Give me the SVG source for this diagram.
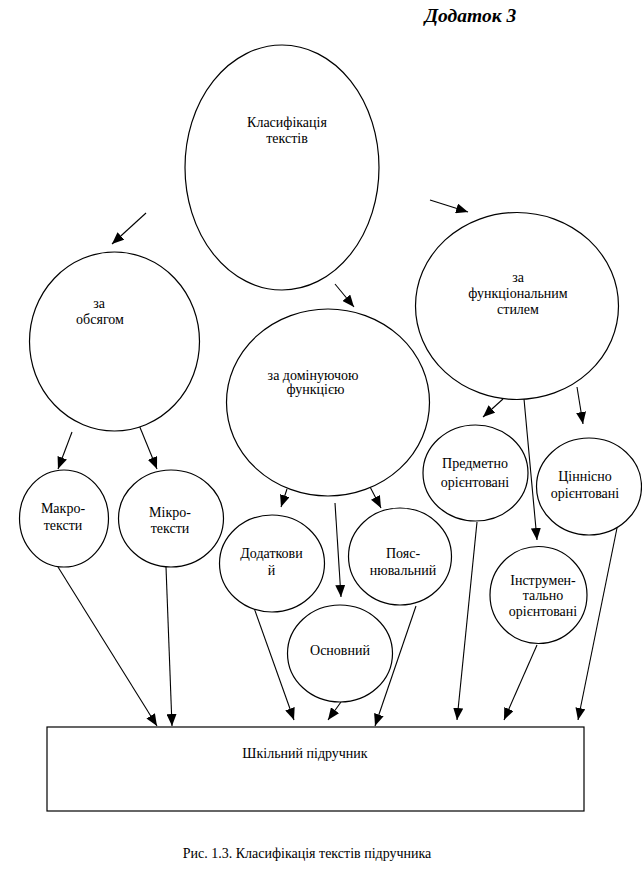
<svg xmlns="http://www.w3.org/2000/svg" width="642" height="869" viewBox="0 0 642 869" style="font-family:'Liberation Serif',serif">
<style>
.n{fill:#fff;stroke:#000;stroke-width:1.2}
.t{font-size:14px;fill:#000;text-anchor:middle}
.c line{stroke:#000;stroke-width:1.1;marker-end:url(#ah)}
</style>
<defs>
<marker id="ah" viewBox="0 0 12 10" refX="12" refY="5" markerWidth="12" markerHeight="10" markerUnits="userSpaceOnUse" orient="auto">
<path d="M0,0 L12,5 L0,10 Z" fill="#000"/>
</marker>
</defs>
<rect width="642" height="869" fill="#fff"/>
<text x="470.5" y="22" style="font-family:'Liberation Serif',serif;font-size:19.5px;font-weight:bold;font-style:italic;text-anchor:middle">Додаток 3</text>
<g class="c">
<line x1="146" y1="213" x2="112" y2="244"/>
<line x1="335" y1="284" x2="354" y2="307"/>
<line x1="430" y1="200" x2="468" y2="212"/>
<line x1="72" y1="432" x2="58" y2="469"/>
<line x1="139" y1="425" x2="157" y2="469"/>
<line x1="287" y1="489" x2="281" y2="507"/>
<line x1="335" y1="503" x2="341" y2="597"/>
<line x1="368" y1="483" x2="381" y2="508"/>
<line x1="503" y1="399" x2="483" y2="417"/>
<line x1="524" y1="399" x2="537" y2="540"/>
<line x1="577" y1="387" x2="583" y2="424"/>
<line x1="58" y1="567" x2="157" y2="726"/>
<line x1="166" y1="567" x2="172" y2="726"/>
<line x1="253" y1="605" x2="294" y2="720"/>
<line x1="341" y1="702" x2="328" y2="720"/>
<line x1="416" y1="606" x2="375" y2="726"/>
<line x1="477" y1="522" x2="457" y2="720"/>
<line x1="537" y1="645" x2="504" y2="720"/>
<line x1="617" y1="528" x2="578" y2="720"/>
</g>
<g id="klasyfikatsiia">
<ellipse class="n" cx="282" cy="167.5" rx="97" ry="122.5"/>
<text class="t" x="287" y="127" style="font-family:'Liberation Serif',serif">Класифікація</text>
<text class="t" x="287" y="143" style="font-family:'Liberation Serif',serif">текстів</text>
</g>
<g id="obsiah">
<ellipse class="n" cx="114.5" cy="341.5" rx="85" ry="89.5"/>
<text class="t" x="99" y="308" style="font-family:'Liberation Serif',serif">за</text>
<text class="t" x="100" y="324" style="font-family:'Liberation Serif',serif">обсягом</text>
</g>
<g id="dominuiucha">
<ellipse class="n" cx="328" cy="402.5" rx="101.5" ry="93.5"/>
<text class="t" x="313" y="379.5" style="font-family:'Liberation Serif',serif">за домінуючою</text>
<text class="t" x="315.5" y="394" style="font-family:'Liberation Serif',serif">функцією</text>
</g>
<g id="funktsionalnyi">
<ellipse class="n" cx="517" cy="306" rx="101.5" ry="93.5"/>
<text class="t" x="518" y="282" style="font-family:'Liberation Serif',serif">за</text>
<text class="t" x="518" y="298" style="font-family:'Liberation Serif',serif">функціональним</text>
<text class="t" x="518" y="313.5" style="font-family:'Liberation Serif',serif">стилем</text>
</g>
<g id="makro">
<ellipse class="n" cx="64" cy="518.5" rx="44.5" ry="48.5"/>
<text class="t" x="63" y="513" style="font-family:'Liberation Serif',serif">Макро-</text>
<text class="t" x="63" y="529.5" style="font-family:'Liberation Serif',serif">тексти</text>
</g>
<g id="mikro">
<ellipse class="n" cx="171" cy="518.5" rx="52.5" ry="48.5"/>
<text class="t" x="170" y="516.5" style="font-family:'Liberation Serif',serif">Мікро-</text>
<text class="t" x="170" y="533" style="font-family:'Liberation Serif',serif">тексти</text>
</g>
<g id="dodatkovyi">
<ellipse class="n" cx="272" cy="563.5" rx="52.5" ry="48.5"/>
<text class="t" x="271.5" y="558" style="font-family:'Liberation Serif',serif">Додаткови</text>
<text class="t" x="271.5" y="574.5" style="font-family:'Liberation Serif',serif">й</text>
</g>
<g id="poiasniuvalnyi">
<ellipse class="n" cx="400" cy="556.5" rx="51.5" ry="48.5"/>
<text class="t" x="403" y="558" style="font-family:'Liberation Serif',serif">Пояс-</text>
<text class="t" x="403" y="574.5" style="font-family:'Liberation Serif',serif">нювальний</text>
</g>
<g id="osnovnyi">
<ellipse class="n" cx="340" cy="653.5" rx="52.5" ry="48.5"/>
<text class="t" x="340" y="654.5" style="font-family:'Liberation Serif',serif">Основний</text>
</g>
<g id="predmetno">
<ellipse class="n" cx="475.5" cy="473" rx="52.5" ry="48"/>
<text class="t" x="475" y="468" style="font-family:'Liberation Serif',serif">Предметно</text>
<text class="t" x="475" y="486.5" style="font-family:'Liberation Serif',serif">орієнтовані</text>
</g>
<g id="tsinnisno">
<ellipse class="n" cx="589" cy="486.5" rx="52.5" ry="48.5"/>
<text class="t" x="585" y="480.5" style="font-family:'Liberation Serif',serif">Ціннісно</text>
<text class="t" x="585" y="497.5" style="font-family:'Liberation Serif',serif">орієнтовані</text>
</g>
<g id="instrumentalno">
<ellipse class="n" cx="538.5" cy="595" rx="48.5" ry="48.5"/>
<text class="t" x="543" y="584.5" style="font-family:'Liberation Serif',serif">Інструмен-</text>
<text class="t" x="543" y="599.5" style="font-family:'Liberation Serif',serif">тально</text>
<text class="t" x="543" y="616" style="font-family:'Liberation Serif',serif">орієнтовані</text>
</g>
<g id="pidruchnyk">
<rect class="n" x="47" y="727" width="537" height="84"/>
<text class="t" x="305" y="757.5" style="font-family:'Liberation Serif',serif">Шкільний підручник</text>
</g>
<text class="t" x="307" y="857.5" style="font-family:'Liberation Serif',serif">Рис. 1.3. Класифікація текстів підручника</text>
</svg>
